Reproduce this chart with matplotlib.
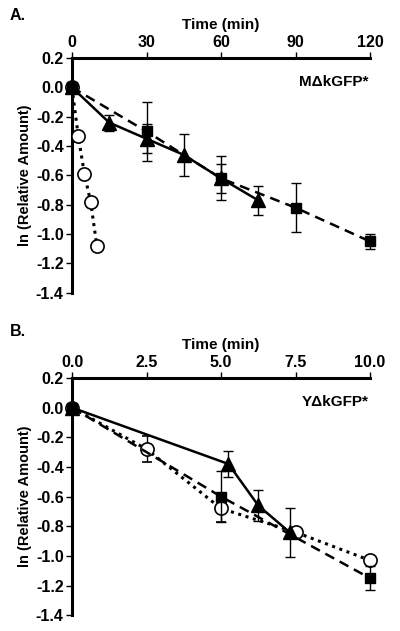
import matplotlib.pyplot as plt
import numpy as np

plt.rcParams['font.family'] = ['Liberation Sans', 'DejaVu Sans']
plt.rcParams['font.weight'] = 'bold'

# Panel A (time in min)
a_sq_t = [0, 30, 60, 90, 120]
a_sq_y = [0.0, -0.30, -0.62, -0.82, -1.05]
a_sq_e = [0.0, 0.20, 0.15, 0.165, 0.05]

a_tri_t = [0, 15, 30, 45, 60, 75]
a_tri_y = [0.0, -0.24, -0.35, -0.46, -0.62, -0.77]
a_tri_e = [0.0, 0.055, 0.10, 0.145, 0.10, 0.10]

a_ci_t = [0, 2.5, 5, 7.5, 10]
a_ci_y = [0.0, -0.33, -0.59, -0.78, -1.08]
a_ci_e = [0.0, 0.0, 0.0, 0.0, 0.0]

# Panel B
b_sq_t = [0, 5.0, 10.0]
b_sq_y = [0.0, -0.60, -1.15]
b_sq_e = [0.0, 0.17, 0.08]

b_tri_t = [0, 5.25, 6.25, 7.3]
b_tri_y = [0.0, -0.38, -0.66, -0.84]
b_tri_e = [0.0, 0.09, 0.105, 0.165]

b_ci_t = [0, 2.5, 5.0, 7.5, 10.0]
b_ci_y = [0.0, -0.28, -0.68, -0.84, -1.03]
b_ci_e = [0.0, 0.09, 0.09, 0.0, 0.0]

yticks = [0.2, 0.0, -0.2, -0.4, -0.6, -0.8, -1.0, -1.2, -1.4]


def draw_panel(ax, sq, tri, ci, xticks, xlabels, name):
    st = dict(color='k', ecolor='k', elinewidth=1, capsize=3.5, clip_on=False)
    ax.errorbar(ci[0], ci[1], yerr=ci[2], fmt='o', ls=(0, (1, 1.5)), lw=2.2,
                ms=9.5, mfc='white', mec='k', mew=1.2, zorder=3, **st)
    ax.errorbar(sq[0], sq[1], yerr=sq[2], fmt='s', ls=(0, (4, 2.5)), lw=1.8,
                ms=7, mfc='k', mec='k', zorder=4, **st)
    ax.errorbar(tri[0], tri[1], yerr=tri[2], fmt='^', ls='-', lw=1.8,
                ms=9.5, mfc='k', mec='k', zorder=5, **st)

    ax.set_xlim(xticks[0], xticks[-1])
    ax.set_ylim(-1.4, 0.2)
    ax.spines['right'].set_visible(False)
    ax.spines['bottom'].set_visible(False)
    ax.spines['left'].set_linewidth(2.2)
    ax.spines['top'].set_linewidth(2.2)
    ax.xaxis.tick_top()
    ax.xaxis.set_label_position('top')
    ax.set_xticks(xticks)
    ax.set_xticklabels(xlabels)
    ax.set_yticks(yticks)
    ax.set_yticklabels(['%.1f' % v for v in yticks])
    ax.tick_params(axis='both', labelsize=11.5, width=1, length=4, pad=2)
    ax.set_xlabel('Time (min)', fontsize=11, fontweight='bold', labelpad=4)
    ax.set_ylabel('ln (Relative Amount)', fontsize=10.5, fontweight='bold', labelpad=3)
    ax.text(0.995, 0.9, name, transform=ax.transAxes, ha='right', va='center',
            fontsize=11, fontweight='bold')


fig = plt.figure(figsize=(4.0, 6.31), dpi=100)

ax1 = fig.add_axes([0.18, 0.536, 0.745, 0.372])
draw_panel(ax1, (a_sq_t, a_sq_y, a_sq_e), (a_tri_t, a_tri_y, a_tri_e),
           (a_ci_t, a_ci_y, a_ci_e), [0, 30, 60, 90, 120],
           ['0', '30', '60', '90', '120'], 'M\u0394kGFP*')

ax2 = fig.add_axes([0.18, 0.025, 0.745, 0.376])
draw_panel(ax2, (b_sq_t, b_sq_y, b_sq_e), (b_tri_t, b_tri_y, b_tri_e),
           (b_ci_t, b_ci_y, b_ci_e), [0, 2.5, 5.0, 7.5, 10.0],
           ['0.0', '2.5', '5.0', '7.5', '10.0'], 'Y\u0394kGFP*')

fig.text(0.025, 0.975, 'A.', fontsize=11.5, fontweight='bold', va='center')
fig.text(0.025, 0.475, 'B.', fontsize=11.5, fontweight='bold', va='center')

fig.savefig('out.png', dpi=100)
